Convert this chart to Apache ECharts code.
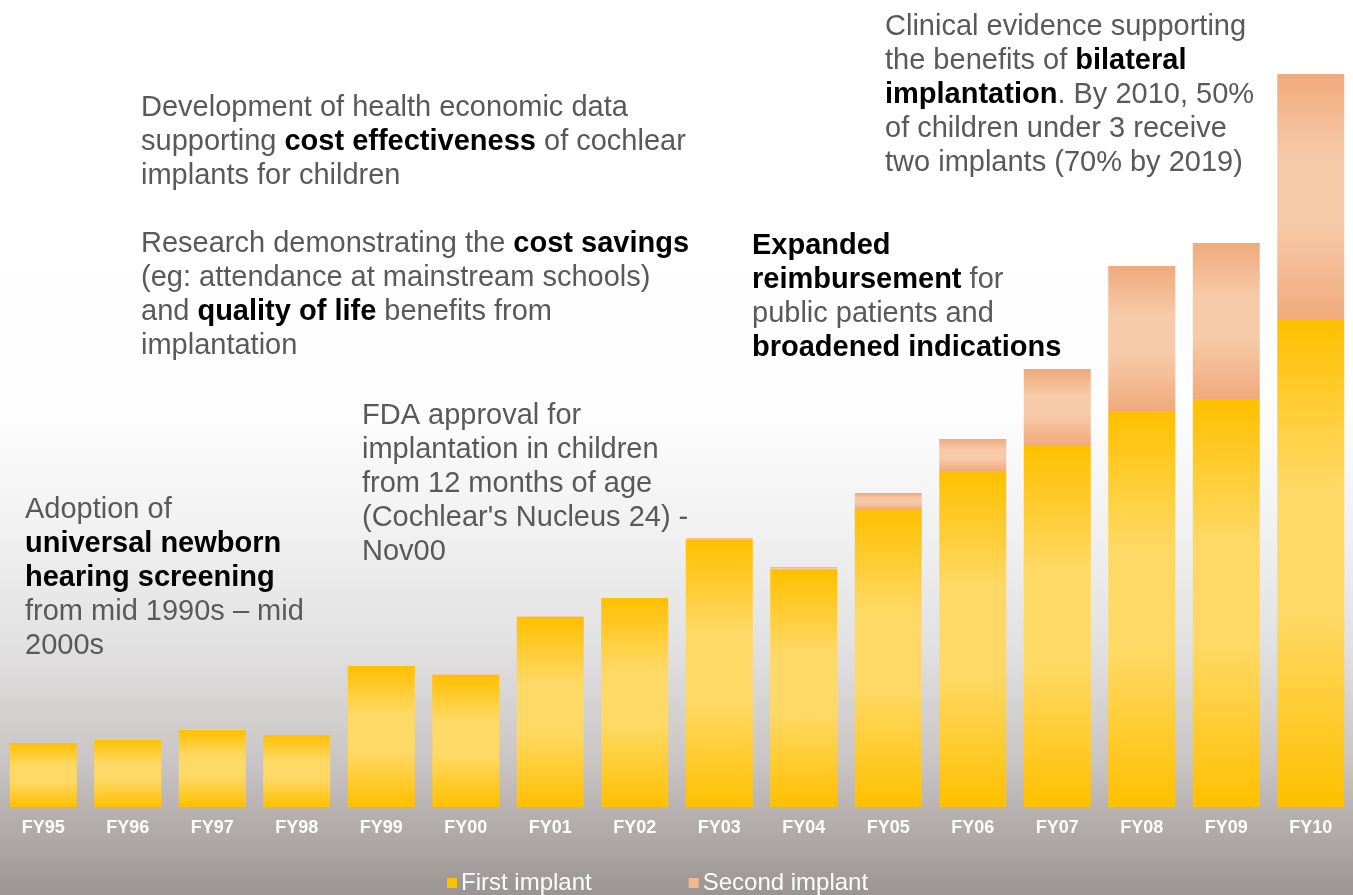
<!DOCTYPE html>
<html>
<head>
<meta charset="utf-8" />
<title>Implants by year</title>
<script src="https://cdn.jsdelivr.net/npm/echarts@6/dist/echarts.min.js"></script>
<style>
  html, body { margin: 0; padding: 0; }
  #chart { width: 1353px; height: 895px; }
</style>
</head>
<body>
<div id="chart"></div>
<script>
const categories = ["FY95", "FY96", "FY97", "FY98", "FY99", "FY00", "FY01", "FY02",
  "FY03", "FY04", "FY05", "FY06", "FY07", "FY08", "FY09", "FY10"];
const firstImplant = [64, 67, 77, 72, 141, 132, 190, 209, 267, 237, 298, 336, 361, 396, 408, 488];
const secondImplant = [0, 0, 1, 0, 0, 1, 1, 0, 2, 3, 16, 32, 77, 145, 156, 245];
const seriesNames = ["First implant", "Second implant"];

const FONT = "'Liberation Sans', Arial, sans-serif";
const GREY = "#595959";

function grad(dark, light) {
  return new echarts.graphic.LinearGradient(0, 0, 0, 1, [
    { offset: 0, color: dark },
    { offset: 0.35, color: light },
    { offset: 0.6, color: light },
    { offset: 1, color: dark }
  ]);
}

// rich text note, bold parts in {b|...}
function note(left, top, text) {
  return {
    type: "text",
    left: left,
    top: top,
    z: 10,
    style: {
      text: text,
      fill: GREY,
      fontSize: 29,
      fontFamily: FONT,
      lineHeight: 34,
      rich: {
        b: { fill: "#000", fontWeight: "bold", fontSize: 29, fontFamily: FONT, lineHeight: 34 }
      }
    }
  };
}

const chart = echarts.init(document.getElementById("chart"));
chart.setOption({
  animation: false,
  backgroundColor: new echarts.graphic.LinearGradient(0, 0, 0, 1, [
    { offset: 0, color: "#ffffff" },
    { offset: 0.45, color: "#fefefe" },
    { offset: 0.6, color: "#f0f0f0" },
    { offset: 0.72, color: "#e2e1e1" },
    { offset: 0.85, color: "#c9c5c4" },
    { offset: 0.93, color: "#b0aaa8" },
    { offset: 1, color: "#9a9492" }
  ]),
  grid: {
    left: 1,
    width: 1354,
    top: 0,
    bottom: 88
  },
  xAxis: {
    type: "category",
    data: categories,
    axisLine: { show: false },
    axisTick: { show: false },
    axisLabel: {
      color: "#fff",
      fontWeight: "bold",
      fontSize: 18,
      fontFamily: FONT,
      margin: 12
    }
  },
  yAxis: {
    type: "value",
    min: 0,
    max: 807,
    show: false,
    splitLine: { show: false }
  },
  legend: {
    left: 447,
    top: 871,
    padding: 0,
    icon: "rect",
    itemWidth: 10,
    itemHeight: 10,
    itemGap: 97,
    textStyle: { color: "#fff", fontSize: 24, fontFamily: FONT, padding: [0, 0, 0, -1] },
    data: [
      { name: seriesNames[0], itemStyle: { color: "#FFC000" } },
      { name: seriesNames[1], itemStyle: { color: "#F4B890" } }
    ]
  },
  series: [
    {
      name: seriesNames[0],
      type: "bar",
      stack: "total",
      barWidth: 67,
      data: firstImplant,
      itemStyle: { color: grad("#FFC000", "#FFD966") }
    },
    {
      name: seriesNames[1],
      type: "bar",
      stack: "total",
      barWidth: 67,
      data: secondImplant,
      itemStyle: { color: grad("#F0AA7C", "#F7CAA9") }
    }
  ],
  graphic: [
    note(141, 91,
      "Development of health economic data\n" +
      "supporting {b|cost effectiveness} of cochlear\n" +
      "implants for children\n\n" +
      "Research demonstrating the {b|cost savings}\n" +
      "(eg: attendance at mainstream schools)\n" +
      "and {b|quality of life} benefits from\n" +
      "implantation"),
    note(25, 493,
      "Adoption of\n{b|universal newborn}\n{b|hearing screening}\nfrom mid 1990s \u2013 mid\n2000s"),
    note(362, 399,
      "FDA approval for\nimplantation in children\nfrom 12 months of age\n(Cochlear's Nucleus 24) -\nNov00"),
    note(752, 229,
      "{b|Expanded}\n{b|reimbursement} for\npublic patients and\n{b|broadened indications}"),
    note(885, 10,
      "Clinical evidence supporting\nthe benefits of {b|bilateral}\n{b|implantation}. By 2010, 50%\nof children under 3 receive\ntwo implants (70% by 2019)")
  ]
});
</script>
</body>
</html>
